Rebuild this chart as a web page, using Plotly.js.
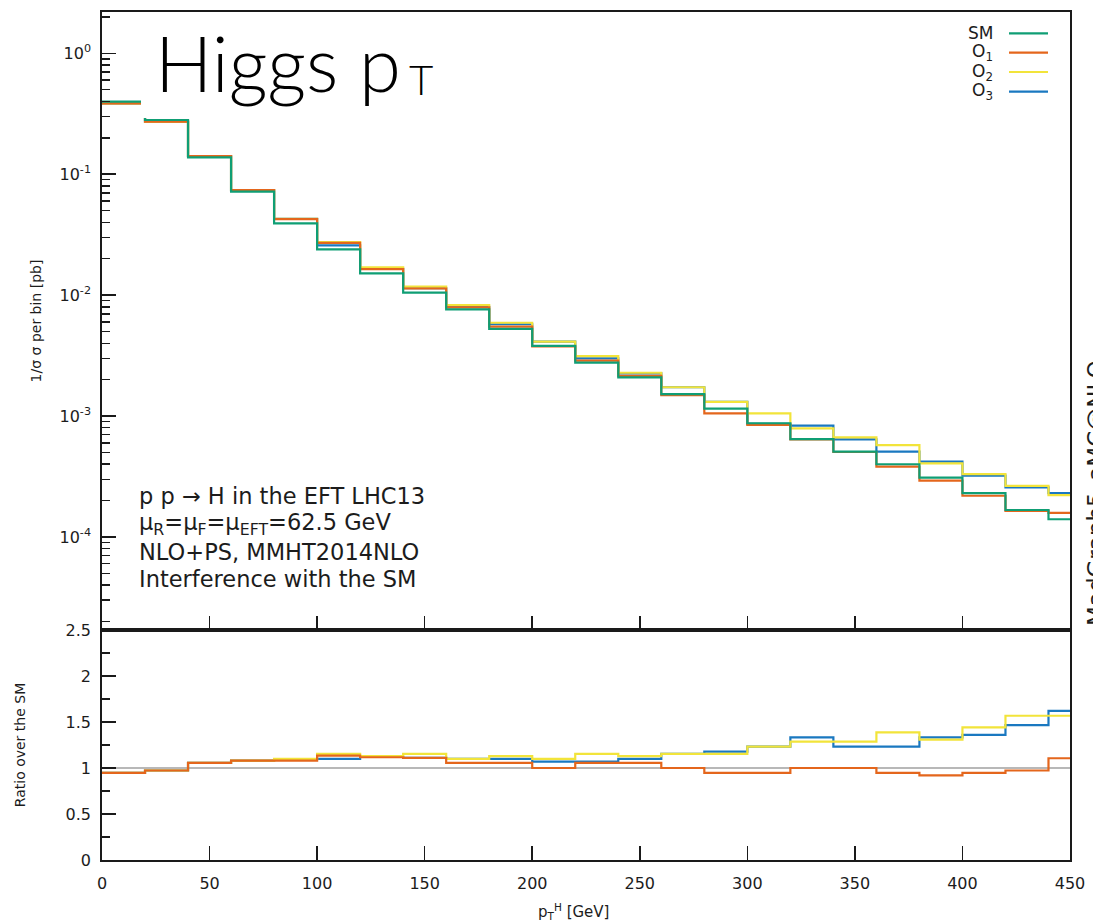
<!DOCTYPE html>
<html>
<head>
<meta charset="utf-8">
<script src="https://cdn.plot.ly/plotly-3.0.1.min.js"></script>
<style>html,body{margin:0;padding:0;background:#fff;}#chart{width:1093px;height:924px;}</style>
</head>
<body>
<div id="chart"></div>
<script>
// ---- data (bins of 20 GeV in p_T^H; last edge closes the final bin) ----
const binEdges = [0,20,40,60,80,100,120,140,160,180,200,220,240,260,280,300,320,340,360,380,400,420,440,460];

const seriesNames = ["SM", "O<sub>1</sub>", "O<sub>2</sub>", "O<sub>3</sub>"];

const smXsec = [0.398, 0.281, 0.138, 0.0717, 0.0392, 0.0239, 0.01514, 0.01047, 0.00763, 0.00525, 0.00381, 0.00276, 0.00209, 0.00152, 0.00115, 0.000871, 0.000645, 0.000507, 0.000399, 0.000309, 0.000230, 0.000167, 0.000140];
const o1Xsec = [0.386, 0.272, 0.1415, 0.074, 0.0426, 0.0271, 0.01644, 0.01135, 0.00793, 0.00548, 0.00376, 0.00287, 0.00215, 0.00149, 0.001052, 0.000843, 0.000640, 0.000504, 0.000381, 0.000292, 0.000219, 0.000164, 0.000158];
const o2Xsec = [0.386, 0.272, 0.1415, 0.074, 0.0428, 0.0274, 0.01698, 0.01178, 0.00828, 0.00591, 0.00412, 0.00313, 0.00228, 0.00173, 0.00131, 0.00105, 0.000791, 0.000667, 0.000575, 0.000406, 0.000331, 0.000264, 0.000222];
const o3Xsec = [0.386, 0.272, 0.1415, 0.074, 0.0427, 0.0258, 0.01650, 0.01140, 0.00800, 0.00574, 0.00412, 0.00300, 0.00225, 0.00173, 0.00131, 0.00086, 0.000832, 0.000642, 0.000507, 0.000419, 0.000321, 0.000257, 0.000230];

const o1Ratio = [0.948, 0.973, 1.056, 1.081, 1.081, 1.135, 1.117, 1.110, 1.056, 1.056, 1.000, 1.056, 1.056, 1.000, 0.948, 0.948, 1.000, 1.000, 0.948, 0.919, 0.948, 0.973, 1.106];
const o2Ratio = [0.948, 0.973, 1.056, 1.081, 1.099, 1.153, 1.128, 1.153, 1.099, 1.128, 1.099, 1.153, 1.128, 1.153, 1.153, 1.232, 1.286, 1.286, 1.387, 1.308, 1.441, 1.568, 1.568];
const o3Ratio = [0.948, 0.973, 1.056, 1.081, 1.095, 1.099, 1.120, 1.110, 1.099, 1.099, 1.070, 1.070, 1.099, 1.153, 1.178, 1.232, 1.333, 1.232, 1.232, 1.333, 1.359, 1.467, 1.622];

const logTickVals = [1, 0.1, 0.01, 0.001, 0.0001];
const logTickText = ["10<sup>0</sup>", "10<sup>-1</sup>", "10<sup>-2</sup>", "10<sup>-3</sup>", "10<sup>-4</sup>"];

const infoLines = [
  "p p \u2192 H in the EFT LHC13",
  "\u03bc<sub>R</sub>=\u03bc<sub>F</sub>=\u03bc<sub>EFT</sub>=62.5 GeV",
  "NLO+PS, MMHT2014NLO",
  "Interference with the SM"
];

// ---- style ----
const colors = {SM: "#0f9e74", O1: "#e4661c", O2: "#f2e43a", O3: "#1a78c0"};
const FONT = "DejaVu Sans, Liberation Sans, Arial, sans-serif";
const TXT = "#1c1c1c";
const W = 1093, H = 924, ML = 102, MR = 23, MT = 12, MB = 64;
const PW = W - ML - MR, PH = H - MT - MB;
const px = v => (v - ML) / PW;            // pixel -> paper x
const py = v => (H - MB - v) / PH;         // pixel -> paper y
const split = py(630);

function stepY(arr) { return arr.concat([arr[arr.length - 1]]); }
function stepTrace(vals, color, xa, ya) {
  return {x: binEdges, y: stepY(vals), type: "scatter", mode: "lines",
          line: {shape: "hv", color: color, width: 2.2}, xaxis: xa, yaxis: ya,
          hoverinfo: "x+y", showlegend: false};
}

const traces = [
  // top panel (drawn bottom -> top)
  stepTrace(o3Xsec, colors.O3, "x2", "y"),
  stepTrace(o2Xsec, colors.O2, "x2", "y"),
  stepTrace(o1Xsec, colors.O1, "x2", "y"),
  stepTrace(smXsec, colors.SM, "x2", "y"),
  // ratio panel
  stepTrace(o3Ratio, colors.O3, "x", "y2"),
  stepTrace(o2Ratio, colors.O2, "x", "y2"),
  stepTrace(o1Ratio, colors.O1, "x", "y2")
];

const minorLog = [];
for (let e = -5; e <= 0; e++) for (let k = 2; k <= 9; k++) minorLog.push(k * Math.pow(10, e));

const axisLine = {showline: true, linecolor: "#1a1a1a", linewidth: 1.8, mirror: true,
                  showgrid: false, zeroline: false, ticks: "inside", tickcolor: "#1a1a1a",
                  tickwidth: 1.6, ticklen: 14};
const tickFont = {family: FONT, size: 16, color: TXT};

const annotations = [];
// title "Higgs pT"
const titleFont = "Lato, Open Sans, Liberation Sans, sans-serif";
annotations.push({xref: "paper", yref: "paper", x: px(153), y: py(63), xanchor: "left", yanchor: "middle",
  text: "Higgs p", showarrow: false, font: {family: titleFont, size: 76, color: "#000", weight: 300}});
annotations.push({xref: "paper", yref: "paper", x: px(407), y: py(79), xanchor: "left", yanchor: "middle",
  text: "T", showarrow: false, font: {family: titleFont, size: 42, color: "#000", weight: 300}});
// info text
const infoY = [496, 523.5, 551.5, 579];
infoLines.forEach((t, i) => annotations.push({xref: "paper", yref: "paper", x: px(137), y: py(infoY[i]),
  xanchor: "left", yanchor: "middle", text: t, showarrow: false, font: {family: FONT, size: 22.5, color: TXT}}));
// legend (text left, sample line right)
const legLineY = [33.3, 52.7, 72, 91.7];
const legColors = [colors.SM, colors.O1, colors.O2, colors.O3];
const shapes = [];
seriesNames.forEach((n, i) => {
  annotations.push({xref: "paper", yref: "paper", x: px(995), y: py(legLineY[i]), xanchor: "right", yanchor: "middle",
    text: n, showarrow: false, font: {family: FONT, size: 17, color: TXT}});
  shapes.push({type: "line", xref: "paper", yref: "paper", x0: px(1009), x1: px(1048),
    y0: py(legLineY[i]), y1: py(legLineY[i]),
    line: {color: legColors[i], width: 2.2}, layer: "above"});
});
// x title
annotations.push({xref: "paper", yref: "paper", x: px(573), y: py(911), xanchor: "center", yanchor: "middle",
  text: "p<sub>T</sub><sup>H</sup> [GeV]", showarrow: false, font: {family: FONT, size: 15, color: TXT}});
// generator stamp on the right edge (cut by the page edge, as in the original)
annotations.push({xref: "paper", yref: "paper", x: px(1096), y: py(493), xanchor: "center", yanchor: "middle",
  text: "MadGraph5_aMC@NLO", textangle: -90, showarrow: false, font: {family: FONT, size: 23, color: TXT}});

// white patch behind the pasted title, SM reference line in ratio panel
shapes.push({type: "rect", xref: "paper", yref: "paper", x0: px(141), x1: px(447), y0: py(118), y1: py(13.5),
  fillcolor: "#ffffff", line: {width: 0}, layer: "above"});
shapes.push({type: "line", xref: "x", yref: "y2", x0: 0, x1: 450, y0: 1, y1: 1,
  line: {color: "#b8b8b8", width: 2}, layer: "below"});

const layout = {
  width: W, height: H,
  margin: {l: ML, r: MR, t: MT, b: MB},
  paper_bgcolor: "#fff", plot_bgcolor: "#fff",
  showlegend: false,
  font: {family: FONT, color: TXT},
  xaxis: Object.assign({}, axisLine, {domain: [0, 1], anchor: "y2", range: [0, 450], dtick: 50, tick0: 0,
    tickfont: tickFont, ticklabelstandoff: 8}),
  xaxis2: Object.assign({}, axisLine, {domain: [0, 1], anchor: "y", range: [0, 450], dtick: 50, tick0: 0,
    matches: "x", showticklabels: false}),
  yaxis: Object.assign({}, axisLine, {domain: [split, 1], anchor: "x2", type: "log", range: [-4.77, 0.342],
    tickmode: "array", tickvals: logTickVals, ticktext: logTickText, tickfont: tickFont, ticklabelstandoff: 6,
    minor: {ticks: "inside", ticklen: 8, tickwidth: 1.4, tickcolor: "#1a1a1a", tickmode: "array", tickvals: minorLog, showgrid: false},
    title: {text: "1/\u03c3 \u03c3 per bin [pb]", font: {family: FONT, size: 14, color: TXT}, standoff: 14}}),
  yaxis2: Object.assign({}, axisLine, {domain: [0, split], anchor: "x", range: [0, 2.5], dtick: 0.5, tick0: 0,
    tickfont: tickFont, ticklabelstandoff: 6,
    minor: {ticks: "inside", ticklen: 8, tickwidth: 1.4, tickcolor: "#1a1a1a", dtick: 0.25, showgrid: false},
    title: {text: "Ratio over the SM", font: {family: FONT, size: 14, color: TXT}, standoff: 37}}),
  annotations: annotations,
  shapes: shapes
};

Plotly.newPlot("chart", traces, layout, {displayModeBar: false, staticPlot: true});
</script>
</body>
</html>
